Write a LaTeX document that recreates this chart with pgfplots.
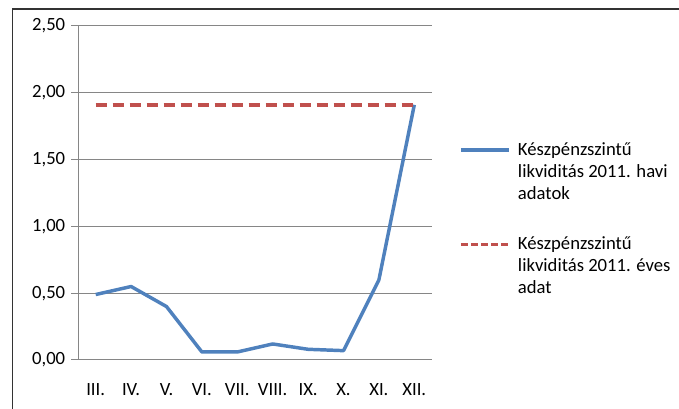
\documentclass[border=0pt]{standalone}
\usepackage{pgfplots}
\pgfplotsset{compat=1.18}
\usepackage{fontspec}
\setmainfont{Carlito}
\definecolor{excelblue}{HTML}{4F81BD}
\definecolor{excelred}{HTML}{C0504D}
\definecolor{gridgray}{HTML}{868686}
\begin{document}
\fontsize{14}{16.5}\selectfont
\begin{tikzpicture}[x=0.75pt,y=0.75pt]
\useasboundingbox (0,0) rectangle (679,409);
\draw[black!80, line width=1pt] (12.5,0) -- (12.5,400) -- (679,400);
\begin{axis}[
  at={(58.5pt,36.75pt)}, anchor=south west,
  scale only axis,
  width=265.5pt, height=250.5pt,
  xmin=-0.5, xmax=9.5, ymin=0, ymax=2.5,
  axis lines=left,
  axis line style={gridgray, line width=0.75pt, -},
  xtick={0,...,9},
  xticklabels={III.,IV.,V.,VI.,VII.,VIII.,IX.,X.,XI.,XII.},
  minor xtick={-0.5,0.5,...,9.5},
  ytick={0,0.5,...,2.5},
  tick align=outside,
  major tick length=5.25pt,
  minor tick length=4.5pt,
  xtick style={draw=none},
  minor tick style={gridgray, line width=0.75pt},
  ytick style={gridgray, line width=0.75pt},
  ymajorgrids,
  grid style={gridgray, line width=0.75pt},
  /pgf/number format/assume math mode=true,
  yticklabel={\pgfmathprintnumber[fixed, fixed zerofill, precision=2, use comma]{\tick}},
  yticklabel style={font=\fontsize{14}{16.5}\selectfont, xshift=0.5pt},
  xticklabel style={font=\fontsize{14}{16.5}\selectfont, yshift=-7.5pt},
  clip=false,
  legend cell align=left,
  legend style={at={(1.076,0.668)}, anchor=north west, draw=none, fill=none,
    inner sep=0pt, row sep=53.25pt, column sep=3.5pt,
    cells={anchor=base west, inner sep=0pt},
    font=\fontsize{14}{16.5}\selectfont},
  legend image code/.code={\draw[#1] (0pt,4pt) -- (36pt,4pt);},
]
\addplot[excelblue, line width=2.6pt, line join=round] coordinates {
  (0,0.49) (1,0.55) (2,0.40) (3,0.06) (4,0.06) (5,0.12) (6,0.08) (7,0.07) (8,0.60) (9,1.91)
};
\addlegendentry{\begin{tabular}[t]{@{}l@{}}Készpénzszintű\\likviditás 2011. havi\\adatok\end{tabular}}
\addplot[excelred, line width=2.6pt, dash pattern=on 8.25pt off 4.5pt,
  legend image code/.code={\draw[excelred, line width=2pt, dash pattern=on 5pt off 2.5pt] (0pt,4pt) -- (36pt,4pt);}] coordinates {
  (0,1.91) (9,1.91)
};
\addlegendentry{\begin{tabular}[t]{@{}l@{}}Készpénzszintű\\likviditás 2011. éves\\adat\end{tabular}}
\end{axis}
\end{tikzpicture}
\end{document}
